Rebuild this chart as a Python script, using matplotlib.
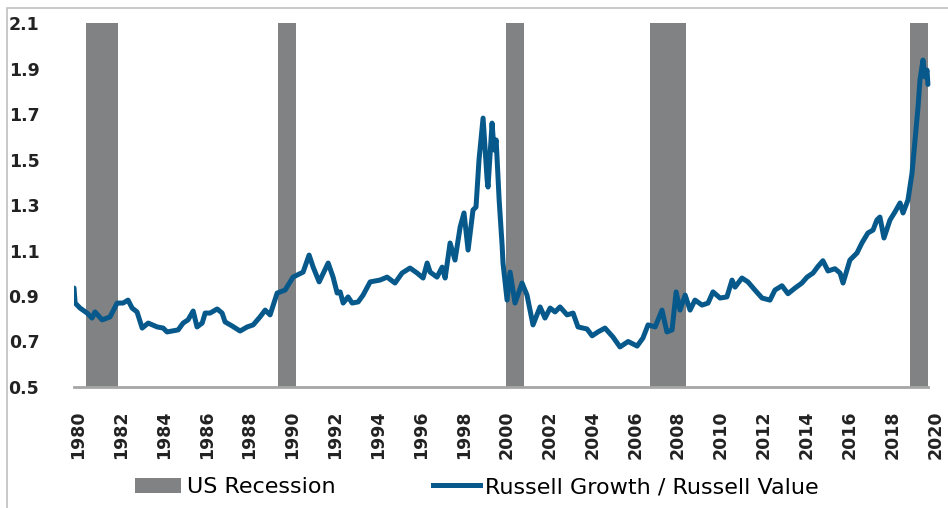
import matplotlib
matplotlib.use("Agg")
import matplotlib.pyplot as plt
from matplotlib.patches import Patch, Rectangle
from matplotlib.lines import Line2D

# Russell Growth / Russell Value ratio (decimal years)
years = [1979.81, 1979.86, 1980.09, 1980.42, 1980.65, 1980.79, 1981.12, 1981.49,
         1981.82, 1982.10, 1982.33, 1982.52, 1982.75, 1982.99, 1983.27, 1983.69,
         1983.97, 1984.15, 1984.67, 1984.90, 1985.13, 1985.37, 1985.55, 1985.79,
         1985.93, 1986.16, 1986.49, 1986.72, 1986.86, 1987.19, 1987.56, 1987.89,
         1988.17, 1988.49, 1988.73, 1988.96, 1989.29, 1989.66, 1990.03, 1990.50,
         1990.78, 1990.97, 1991.25, 1991.67, 1991.90, 1992.09, 1992.23, 1992.37,
         1992.60, 1992.79, 1993.07, 1993.30, 1993.63, 1994.09, 1994.42, 1994.79,
         1995.12, 1995.49, 1995.82, 1996.10, 1996.29, 1996.43, 1996.75, 1996.99,
         1997.13, 1997.36, 1997.59, 1997.83, 1998.01, 1998.20, 1998.43, 1998.57,
         1998.71, 1998.90, 1999.09, 1999.13, 1999.32, 1999.41, 1999.51, 1999.65,
         1999.79, 1999.83, 2000.02, 2000.16, 2000.39, 2000.72, 2000.95, 2001.23,
         2001.56, 2001.79, 2002.03, 2002.26, 2002.49, 2002.82, 2003.10, 2003.33,
         2003.75, 2003.99, 2004.26, 2004.59, 2004.96, 2005.29, 2005.67, 2006.09,
         2006.36, 2006.60, 2006.93, 2007.25, 2007.48, 2007.72, 2007.91, 2008.09,
         2008.33, 2008.56, 2008.79, 2009.12, 2009.40, 2009.63, 2009.96, 2010.28,
         2010.52, 2010.66, 2010.98, 2011.26, 2011.59, 2011.92, 2012.29, 2012.52,
         2012.85, 2013.13, 2013.46, 2013.78, 2014.02, 2014.30, 2014.53, 2014.76,
         2015.00, 2015.32, 2015.56, 2015.70, 2016.02, 2016.35, 2016.58, 2016.86,
         2017.10, 2017.28, 2017.42, 2017.61, 2017.89, 2018.12, 2018.36, 2018.50,
         2018.73, 2018.92, 2019.06, 2019.20, 2019.29, 2019.43, 2019.52, 2019.62,
         2019.66]
ratio = [0.935, 0.869, 0.847, 0.825, 0.803, 0.830, 0.795, 0.808,
         0.869, 0.869, 0.882, 0.847, 0.830, 0.759, 0.781, 0.764,
         0.759, 0.742, 0.751, 0.781, 0.795, 0.834, 0.764, 0.781,
         0.825, 0.825, 0.843, 0.825, 0.786, 0.768, 0.746, 0.764,
         0.773, 0.808, 0.838, 0.817, 0.913, 0.926, 0.983, 1.005,
         1.080, 1.027, 0.962, 1.045, 0.983, 0.913, 0.918, 0.869,
         0.896, 0.869, 0.874, 0.904, 0.962, 0.970, 0.983, 0.957,
         1.001, 1.023, 1.001, 0.979, 1.045, 1.005, 0.983, 1.027,
         0.979, 1.133, 1.058, 1.203, 1.265, 1.102, 1.278, 1.291,
         1.498, 1.682, 1.410, 1.379, 1.660, 1.542, 1.586, 1.322,
         1.120, 1.045, 0.882, 1.005, 0.869, 0.957, 0.904, 0.773,
         0.852, 0.803, 0.847, 0.830, 0.852, 0.817, 0.825, 0.764,
         0.755, 0.725, 0.742, 0.759, 0.720, 0.676, 0.700, 0.680,
         0.715, 0.773, 0.764, 0.838, 0.742, 0.751, 0.918, 0.838,
         0.904, 0.838, 0.882, 0.860, 0.869, 0.918, 0.891, 0.896,
         0.970, 0.939, 0.979, 0.962, 0.926, 0.891, 0.882, 0.926,
         0.945, 0.910, 0.935, 0.957, 0.983, 1.001, 1.030, 1.055,
         1.010, 1.020, 1.001, 0.957, 1.058, 1.089, 1.133, 1.177,
         1.190, 1.234, 1.247, 1.155, 1.234, 1.269, 1.309, 1.265,
         1.322, 1.441, 1.586, 1.731, 1.849, 1.937, 1.863, 1.893,
         1.830]

# US recession periods as drawn (start, end)
recession_start = [1980.37, 1989.33, 1999.97, 2006.69, 2018.82]
recession_end = [1981.87, 1990.17, 2000.81, 2008.37, 2019.66]

year_ticks = list(range(1980, 2021, 2))
value_ticks = [0.5, 0.7, 0.9, 1.1, 1.3, 1.5, 1.7, 1.9, 2.1]

line_color = "#07598b"
bar_color = "#818284"

fig = plt.figure(figsize=(9.48, 5.08), dpi=100)
ax = fig.add_axes([0.0781, 0.2382, 0.9129, 0.7165])

for s, e in zip(recession_start, recession_end):
    ax.axvspan(s, e, color=bar_color, lw=0, zorder=1)

ax.plot(years, ratio, color=line_color, lw=3.6, solid_joinstyle="round",
        solid_capstyle="round", zorder=3)

ax.set_xlim(1979.81, 2020.2)
ax.set_ylim(0.5, 2.1)
ax.set_xticks(year_ticks)
ax.set_xticklabels([str(y) for y in year_ticks], rotation=90,
                   fontsize=12.5, fontweight="bold", color="#222222")
ax.set_yticks(value_ticks)
ax.set_yticklabels([f"{v:.1f}" for v in value_ticks],
                   fontsize=12.5, fontweight="bold", color="#222222")
ax.tick_params(axis="x", length=0, pad=17)
ax.tick_params(axis="y", length=0, pad=25)

for side in ["top", "right", "left"]:
    ax.spines[side].set_visible(False)
ax.spines["bottom"].set_color("#a6a6a6")
ax.spines["bottom"].set_linewidth(2)
ax.spines["bottom"].set_bounds(1979.81, 2019.66)

handles = [Patch(facecolor=bar_color, edgecolor="none"),
           Line2D([], [], color=line_color, lw=3.6)]
fig.legend(handles, ["US Recession", "Russell Growth / Russell Value"],
           loc="center", bbox_to_anchor=(0.503, 0.041), ncol=2, frameon=False,
           fontsize=16, handlelength=2.1, handleheight=0.7,
           handletextpad=0.25, columnspacing=4.4)

# light grey frame around the chart, cut off at right and bottom
fig.patches.append(Rectangle((7 / 948, -0.2), 1.2, 1.2 - 8 / 508,
                             transform=fig.transFigure, fill=False,
                             edgecolor="#c0c0c0", lw=1.2))

fig.savefig("out.png", dpi=100)
